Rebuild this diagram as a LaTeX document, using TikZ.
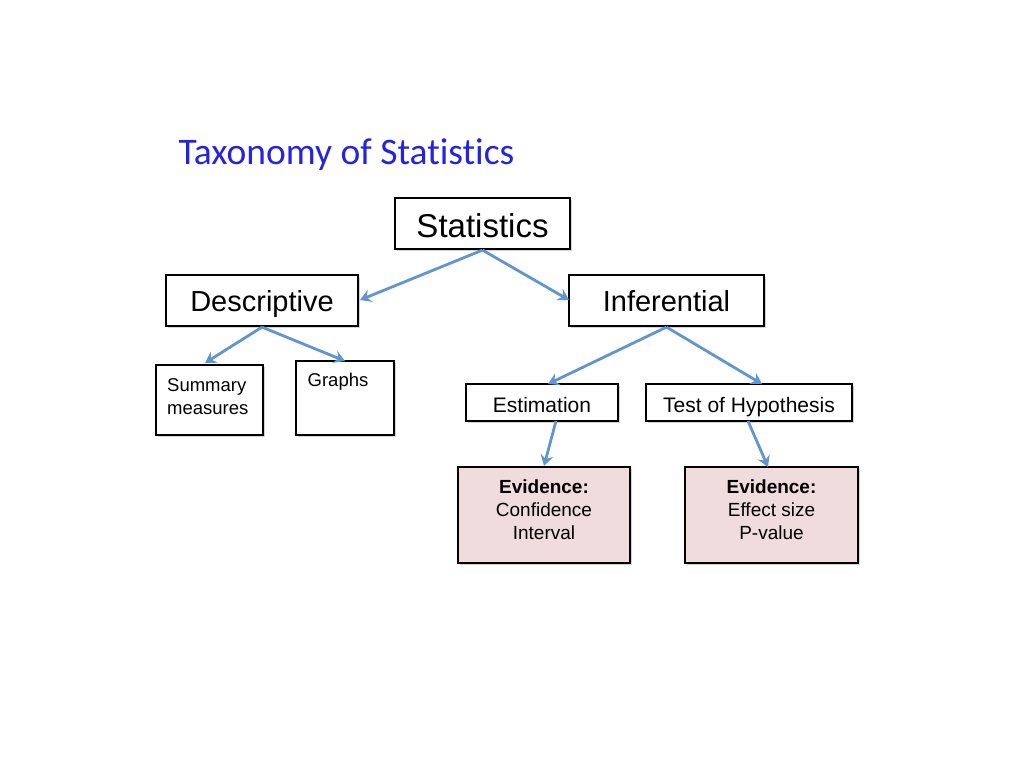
\documentclass[tikz,border=0pt]{standalone}
\usepackage{fontspec}
\setmainfont{Liberation Sans}
\newfontfamily\titlefont[Ligatures=NoCommon]{Carlito}
\usetikzlibrary{shadows,arrows.meta}
\definecolor{arrowblue}{RGB}{95,150,210}
\definecolor{titleblue}{RGB}{35,35,225}
\definecolor{evfill}{RGB}{240,220,220}
\tikzset{
  box/.style={draw=black, line width=2.2pt, fill=white, drop shadow={shadow xshift=1.8pt, shadow yshift=-1.8pt, opacity=0.35}},
  conn/.style={draw=arrowblue, line width=2.8pt, -{Stealth[length=11pt,width=13pt,inset=4pt]}},
}
\begin{document}
\begin{tikzpicture}[x=1pt,y=-1pt]
\useasboundingbox (0,0) rectangle (1024,768);
\node[anchor=west, text=titleblue, font=\titlefont\fontsize{37.5}{44}\selectfont] (title) at (175,155) {Taxonomy of Statistics};

% boxes
\node[box, text height=28pt, text depth=0pt, minimum width=175pt, minimum height=51pt, font=\fontsize{33}{38}\selectfont] (stat) at (482.5,223.5) {Statistics};
\node[box, text height=22pt, text depth=0pt, minimum width=192pt, minimum height=51pt, font=\fontsize{29}{34}\selectfont] (desc) at (262,300.5) {Descriptive};
\node[box, text height=22pt, text depth=0pt, minimum width=195pt, minimum height=51pt, font=\fontsize{29}{34}\selectfont] (inf) at (666.5,300.5) {Inferential};

\node[box, minimum width=107pt, minimum height=70pt] (summ) at (209.5,400) {};
\node[align=left, anchor=north west, inner sep=0pt, font=\fontsize{18.5}{23.5}\selectfont] (summt) at (167,378) {Summary\\measures};
\node[box, minimum width=98pt, minimum height=74pt] (graph) at (345,398) {};
\node[anchor=north, inner sep=0pt, font=\fontsize{18.5}{22}\selectfont] (grapht) at (338,373) {Graphs};

\node[box, text height=20pt, text depth=0pt, minimum width=152pt, minimum height=37pt, font=\fontsize{21}{25}\selectfont] (est) at (542,402.5) {Estimation};
\node[box, text height=20pt, text depth=0pt, minimum width=206pt, minimum height=37pt, font=\fontsize{21}{25}\selectfont] (test) at (749,402.5) {Test of Hypothesis};

\node[box, fill=evfill, minimum width=172pt, minimum height=96pt] (ev1) at (544,515) {};
\node[align=center, font=\fontsize{19}{23}\selectfont] (ev1t) at (544,510) {\textbf{Evidence:}\\Confidence\\Interval};
\node[box, fill=evfill, minimum width=173pt, minimum height=96pt] (ev2) at (771.5,515) {};
\node[align=center, font=\fontsize{19}{23}\selectfont] (ev2t) at (771.5,510) {\textbf{Evidence:}\\Effect size\\P-value};

% connectors
\draw[conn] (stat.south) -- (360,300);
\draw[conn] (stat.south) -- (569,300);
\draw[conn] (desc.south) -- (205,363);
\draw[conn] (desc.south) -- (345,361);
\draw[conn] (inf.south) -- (548,384);
\draw[conn] (inf.south) -- (762,384);
\draw[conn] (556,421) -- (ev1.north);
\draw[conn] (748,421) -- (768,467);
\end{tikzpicture}
\end{document}
